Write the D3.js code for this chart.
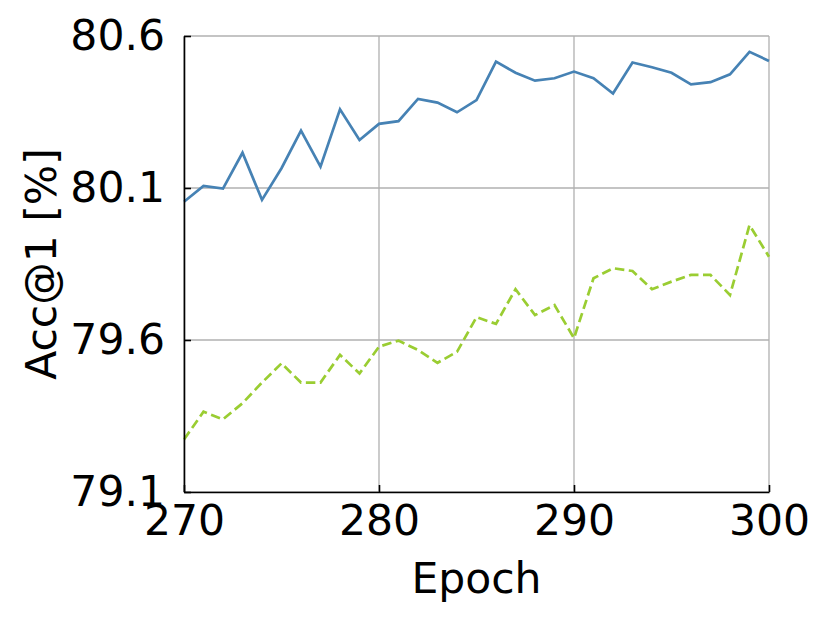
<!DOCTYPE html>
<html>
<head>
<meta charset="utf-8">
<script src="https://cdn.jsdelivr.net/npm/d3@7"></script>
<style>
  body { margin: 0; background: #fff; }
  text { font-family: "DejaVu Sans", sans-serif; fill: #000; }
</style>
</head>
<body>
<div id="chart"></div>
<script>
/* Data */
var epochs = d3.range(270, 301);

var accBlue = [80.055, 80.107, 80.098, 80.216, 80.061, 80.165, 80.289, 80.170, 80.359, 80.258,
               80.311, 80.320, 80.393, 80.381, 80.349, 80.389, 80.516, 80.479, 80.453, 80.461,
               80.483, 80.461, 80.411, 80.513, 80.497, 80.479, 80.441, 80.448, 80.474, 80.548,
               80.518];

var accGreen = [79.273, 79.364, 79.339, 79.392, 79.460, 79.523, 79.460, 79.460, 79.551, 79.490,
                79.578, 79.598, 79.567, 79.525, 79.561, 79.675, 79.653, 79.767, 79.682, 79.715,
                79.606, 79.803, 79.836, 79.827, 79.767, 79.792, 79.814, 79.814, 79.748, 79.978,
                79.874];

var xTicks = [270, 280, 290, 300];
var yTicks = [79.1, 79.6, 80.1, 80.6];

/* Layout */
var W = 830, H = 623;
var m = {left: 184, right: 61, top: 36, bottom: 131};
var iw = W - m.left - m.right,
    ih = H - m.top - m.bottom;
var fs = '42.5px';

var svg = d3.select('#chart').append('svg')
    .attr('width', W)
    .attr('height', H);

var g = svg.append('g')
    .attr('transform', 'translate(' + m.left + ',' + m.top + ')');

var x = d3.scaleLinear().domain([270, 300]).range([0, iw]);
var y = d3.scaleLinear().domain([79.1, 80.6]).range([ih, 0]);

// Grid
g.append('g').selectAll('line').data(xTicks)
  .enter().append('line')
    .attr('x1', function(d){ return x(d); })
    .attr('x2', function(d){ return x(d); })
    .attr('y1', 0).attr('y2', ih)
    .attr('stroke', '#b0b0b0').attr('stroke-width', 1.3);

g.append('g').selectAll('line').data(yTicks)
  .enter().append('line')
    .attr('y1', function(d){ return y(d); })
    .attr('y2', function(d){ return y(d); })
    .attr('x1', 0).attr('x2', iw)
    .attr('stroke', '#b0b0b0').attr('stroke-width', 1.3);

// Lines
var line = function(vals){
  return d3.line()
    .x(function(d, i){ return x(epochs[i]); })
    .y(function(d){ return y(d); })(vals);
};

g.append('path')
    .attr('d', line(accGreen))
    .attr('fill', 'none')
    .attr('stroke', '#9acd32')
    .attr('stroke-width', 2.7)
    .attr('stroke-dasharray', '9.5,4.5');

g.append('path')
    .attr('d', line(accBlue))
    .attr('fill', 'none')
    .attr('stroke', '#4682b4')
    .attr('stroke-width', 2.7);

// Axes (ticks pointing inward)
var xAxis = d3.axisBottom(x).tickValues(xTicks).tickSizeInner(-7).tickSizeOuter(0).tickPadding(13)
    .tickFormat(d3.format('d'));
var yAxis = d3.axisLeft(y).tickValues(yTicks).tickSizeInner(-7).tickSizeOuter(0).tickPadding(19)
    .tickFormat(d3.format('.1f'));

var gx = g.append('g').attr('transform', 'translate(0,' + ih + ')').call(xAxis);
var gy = g.append('g').call(yAxis);

[gx, gy].forEach(function(a){
  a.select('.domain').attr('stroke', '#000').attr('stroke-width', 1.6);
  a.selectAll('.tick line').attr('stroke', '#000').attr('stroke-width', 1.6);
  a.selectAll('.tick text')
    .style('font-family', '"DejaVu Sans", sans-serif')
    .style('font-size', fs)
    .attr('fill', '#000');
});

gx.selectAll('.tick text').attr('dy', '0.71em');

// Axis labels
svg.append('text')
    .attr('x', m.left + iw / 2)
    .attr('y', 593)
    .attr('text-anchor', 'middle')
    .style('font-size', fs)
    .text('Epoch');

svg.append('text')
    .attr('transform', 'translate(56,' + (m.top + ih / 2) + ') rotate(-90)')
    .attr('text-anchor', 'middle')
    .style('font-size', fs)
    .text('Acc@1 [%]');
</script>
</body>
</html>
